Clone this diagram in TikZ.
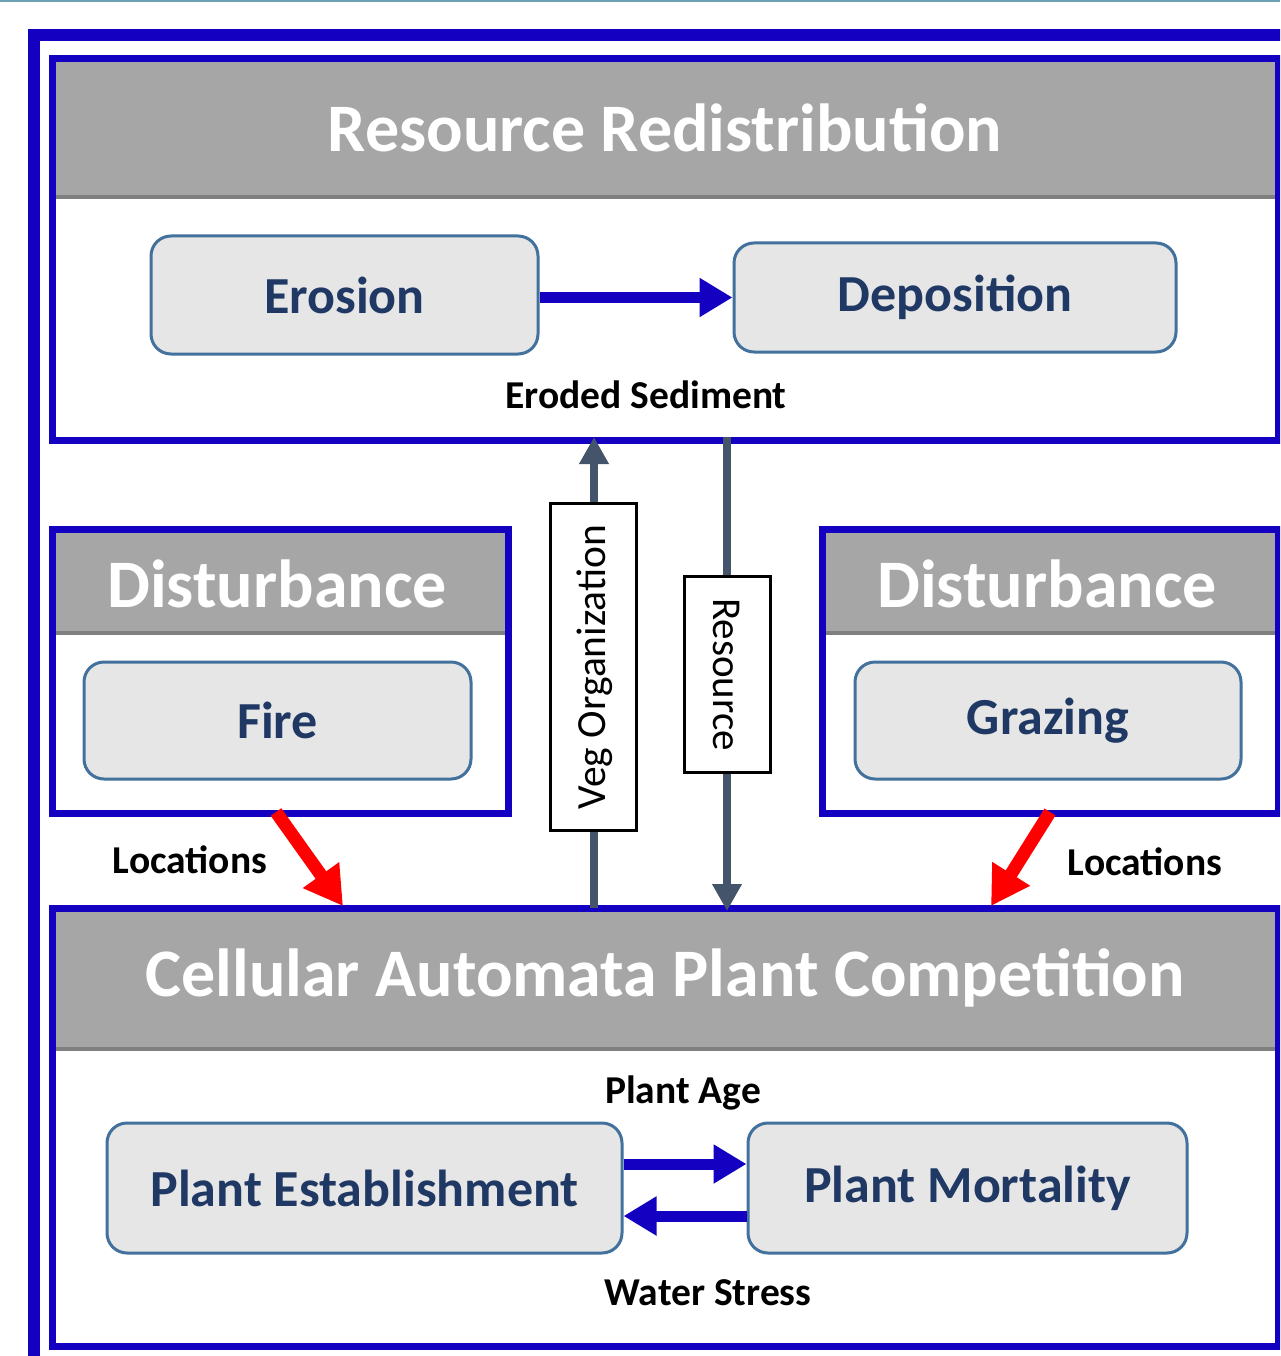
\documentclass[tikz,border=0pt]{standalone}
\usepackage{fontspec}
\setmainfont{Carlito}
\usetikzlibrary{arrows.meta,calc}
\definecolor{outblue}{RGB}{20,0,192}
\definecolor{hdrgray}{RGB}{166,166,166}
\definecolor{hdrline}{RGB}{127,127,127}
\definecolor{boxfill}{RGB}{230,230,230}
\definecolor{boxedge}{RGB}{65,113,156}
\definecolor{navy}{RGB}{31,56,100}
\definecolor{slate}{RGB}{68,84,106}
\definecolor{topline}{RGB}{110,160,181}
\tikzset{
  frame/.style={draw=outblue,line width=7pt,fill=white,inner sep=0pt,outer sep=0pt},
  hdrtext/.style={text=white,inner sep=0pt,font=\fontsize{68}{80}\selectfont\bfseries},
  procbox/.style={draw=boxedge,line width=3pt,fill=boxfill,rounded corners=20pt,inner sep=0pt,text=navy,font=\fontsize{52}{60}\selectfont\bfseries},
  lbl/.style={inner sep=0pt,text=black,font=\fontsize{39.5}{46}\selectfont\bfseries},
  vbox/.style={draw=black,line width=3pt,fill=white,inner sep=0pt,minimum width=86pt,font=\fontsize{38}{46}\selectfont},
  bluearrow/.style={draw=outblue,line width=11pt,-{Triangle[length=33pt,width=37pt]}},
  grayarrow/.style={draw=slate,line width=8pt,-{Triangle[length=27pt,width=28pt]}},
  grayline/.style={draw=slate,line width=8pt},
  redarrow/.style={draw=red,line width=13pt,-{Triangle[length=38pt,width=42pt]}}
}
\begin{document}
\begin{tikzpicture}[x=1pt,y=-1pt]
\useasboundingbox (0,0) rectangle (1280,1356);
\clip (0,0) rectangle (1280,1356);
% top thin line
\draw[topline,line width=2pt] (0,1) -- (1280,1);
% outer frame
\draw[outblue,line width=12pt] (34,1400) -- (34,35) -- (1320,35);

% Resource Redistribution frame
\node[frame,minimum width=1226pt,minimum height=381.5pt] (rr) at (665,249.25) {};
\fill[hdrgray] (55.5,62) rectangle (1274.5,197);
\draw[hdrline,line width=4pt] (55.5,197) -- (1274.5,197);
\node[hdrtext] (rrt) at (665,128) {Resource Redistribution};

% Disturbance left
\node[frame,minimum width=455.5pt,minimum height=284pt] (dl) at (280.25,671) {};
\fill[hdrgray] (56,532.5) rectangle (504.5,633);
\draw[hdrline,line width=4pt] (56,633) -- (504.5,633);
\node[hdrtext] (dlt) at (277,584) {Disturbance};

% Disturbance right
\node[frame,minimum width=456pt,minimum height=284pt] (dr) at (1050,671) {};
\fill[hdrgray] (825.5,532.5) rectangle (1274.5,633);
\draw[hdrline,line width=4pt] (825.5,633) -- (1274.5,633);
\node[hdrtext] (drt) at (1047,584) {Disturbance};

% Cellular Automata frame
\node[frame,minimum width=1226pt,minimum height=438pt] (ca) at (665,1127) {};
\fill[hdrgray] (55.5,911.5) rectangle (1274.5,1049);
\draw[hdrline,line width=4pt] (55.5,1049) -- (1274.5,1049);
\node[hdrtext] (cat) at (665,978) {Cellular Automata Plant Competition};

% process boxes
\node[procbox,minimum width=387pt,minimum height=118pt] (erosion) at (344.5,295) {Erosion};
\node[procbox,minimum width=442pt,minimum height=109pt] (deposition) at (955,297.5) {Deposition};
\node[procbox,minimum width=387pt,minimum height=117pt] (fire) at (277.5,720.5) {Fire};
\node[procbox,minimum width=386pt,minimum height=117pt] (grazing) at (1048,720.5) {Grazing};
\node[procbox,minimum width=515pt,minimum height=130pt] (estab) at (364.5,1188) {Plant Establishment};
\node[procbox,minimum width=439pt,minimum height=130pt] (mortal) at (967.5,1188) {Plant Mortality};

% labels
\node[lbl] (sed) at (646,395) {Eroded Sediment};
\node[lbl] (locl) at (190,860) {Locations};
\node[lbl] (locr) at (1145,862) {Locations};
\node[lbl] (age) at (683,1093) {Plant Age};
\node[lbl] (ws) at (708,1293) {Water Stress};

% vertical boxes
\node[vbox,minimum height=327pt] (veg) at (593,666.5) {};
\node[rotate=90,inner sep=0pt,font=\fontsize{41.5}{48}\selectfont] (vegt) at (595,667) {Veg Organization};
\node[vbox,minimum height=196pt] (res) at (727,674) {};
\node[rotate=-90,inner sep=0pt,font=\fontsize{41}{48}\selectfont] (rest) at (726,674.5) {Resource};

% connectors
\draw[bluearrow] (erosion.east |- deposition.west) -- (deposition.west);
\draw[bluearrow] ([yshift=24pt]estab.east) -- ([yshift=24pt]mortal.west);
\draw[bluearrow] ([yshift=-28pt]mortal.west) -- ([yshift=-28pt]estab.east);

\draw[grayline] (veg.south -| 594,0) -- (ca.north -| 594,0);
\draw[grayarrow] (veg.north -| 594,0) -- ($(rr.south -| 594,0)+(0,-3)$);
\draw[grayline] ($(rr.south -| res.north)+(0,-3)$) -- (res.north);
\draw[grayarrow] (res.south) -- ($(ca.north -| res.south)+(0,3)$);

\coordinate (rl1) at (276,812);
\coordinate (rl2) at (343,906);
\coordinate (rr1) at (1050,812);
\coordinate (rr2) at (991,906);
\draw[redarrow] (rl1) -- (rl2);
\draw[redarrow] (rr1) -- (rr2);
\end{tikzpicture}
\end{document}
